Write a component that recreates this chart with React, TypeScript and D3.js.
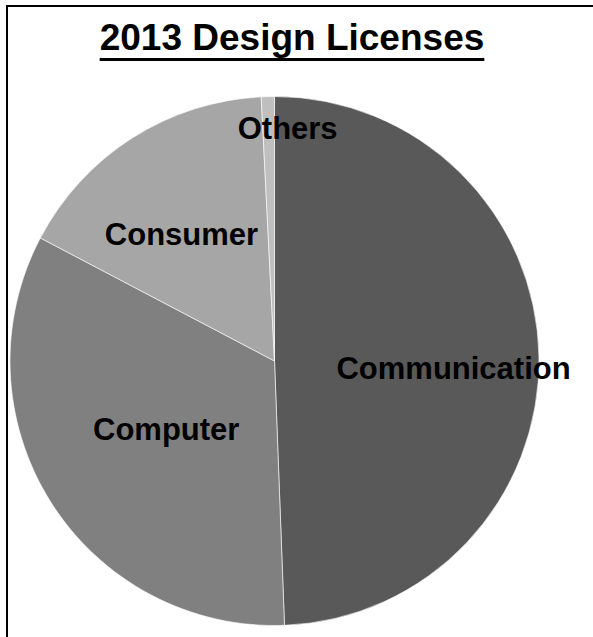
import React, {useEffect, useRef} from 'react';
import * as d3 from 'd3';

// values (percent of licenses)
const categories = ['Communication', 'Computer', 'Consumer', 'Others'];
const shares = [49.4, 33.3, 16.5, 0.8];
const shades = ['#595959', '#808080', '#a6a6a6', '#bfbfbf'];

const title = '2013 Design Licenses';

function App() {
  const svgRef = useRef(null);

  const width = 593;
  const height = 637;
  const cx = 274.5;
  const cy = 361;
  const radius = 264.5;
  const fontFamily = '"Liberation Sans", Arial, Helvetica, sans-serif';

  // label placement: fraction of radius along the slice mid-angle, plus a nudge
  const labelRadius = [0.677, 0.484, 0.59, 0.88];
  const labelNudge = [[0, 10], [0, 0], [-9, 4], [19, 0]];

  useEffect(() => {
    const svg = d3.select(svgRef.current);
    svg.selectAll('*').remove();

    // outer frame, runs off the right and bottom edge
    svg.append('rect')
      .attr('x', 7)
      .attr('y', 6)
      .attr('width', 800)
      .attr('height', 800)
      .attr('fill', 'none')
      .attr('stroke', '#000')
      .attr('stroke-width', 2);

    const t = svg.append('text')
      .attr('x', 292)
      .attr('y', 49.5)
      .attr('text-anchor', 'middle')
      .attr('font-family', fontFamily)
      .attr('font-weight', 'bold')
      .attr('font-size', 37)
      .attr('fill', '#000')
      .text(title);

    const len = (t.node() as any).getComputedTextLength();
    svg.append('rect')
      .attr('x', 292 - len / 2)
      .attr('y', 58)
      .attr('width', len)
      .attr('height', 3)
      .attr('fill', '#000');

    const pie = d3.pie<number>().sort(null).value(d => d);
    const arcs = pie(shares);
    const arc = d3.arc<any>().innerRadius(0).outerRadius(radius);

    const g = svg.append('g').attr('transform', `translate(${cx},${cy})`);

    g.selectAll('path')
      .data(arcs)
      .enter()
      .append('path')
      .attr('d', arc)
      .attr('fill', (d, i) => shades[i])
      .attr('stroke', '#fff')
      .attr('stroke-width', 0.6);

    g.selectAll('text.label')
      .data(arcs)
      .enter()
      .append('text')
      .attr('class', 'label')
      .attr('transform', (d, i) => {
        const r = radius * labelRadius[i];
        const c = d3.arc<any>().innerRadius(r).outerRadius(r).centroid(d);
        return `translate(${c[0] + labelNudge[i][0]},${c[1] + labelNudge[i][1]})`;
      })
      .attr('dy', '0.36em')
      .attr('text-anchor', 'middle')
      .attr('font-family', fontFamily)
      .attr('font-weight', 'bold')
      .attr('font-size', 31)
      .attr('fill', '#000')
      .text((d, i) => categories[i]);
  }, []);

  return (
    <svg
      ref={svgRef}
      width={width}
      height={height}
      style={{position: 'absolute', left: 0, top: 0, background: '#fff'}}
    />
  );
}

export default App;
